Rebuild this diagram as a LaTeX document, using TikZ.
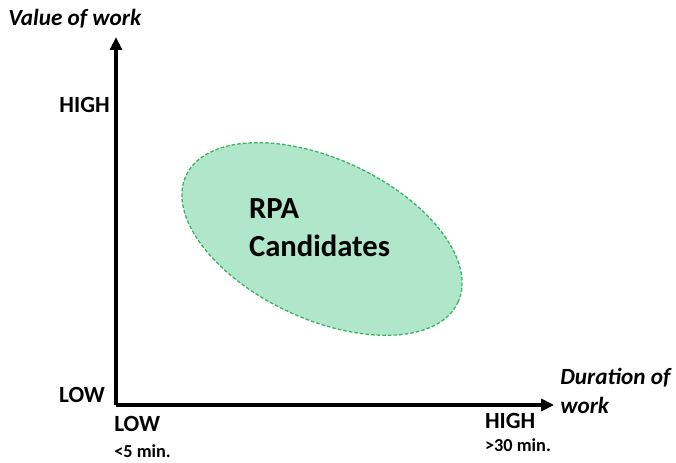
\documentclass[tikz,border=0pt]{standalone}
\usepackage{fontspec}
\setmainfont{Carlito}
\usetikzlibrary{arrows.meta}
\definecolor{blobfill}{RGB}{176,230,202}
\definecolor{blobline}{RGB}{52,178,98}
\tikzset{
  lbl/.style={inner sep=0pt, font=\bfseries\fontsize{16.5}{21}\selectfont},
  sublbl/.style={inner sep=0pt, font=\bfseries\fontsize{13}{15}\selectfont},
  axtitle/.style={inner sep=0pt, align=left, font=\bfseries\itshape\fontsize{16.5}{21}\selectfont}
}
\begin{document}
\begin{tikzpicture}
        \useasboundingbox (0,0) rectangle (16.9,11.55);
        \coordinate (origin) at (2.9,1.425);
        \coordinate (ytip) at (2.9,10.62);
        \coordinate (xtip) at (13.85,1.425);
        \draw [line width=2.2pt, -{Triangle[length=0.32cm, width=0.3cm]}] (origin) -- (ytip);
        \draw [line width=2.2pt, -{Triangle[length=0.32cm, width=0.3cm]}] (origin) -- (xtip);
        \draw [fill=blobfill, draw=blobline, dash pattern=on 2.5pt off 1.5pt, line width=0.9pt, rotate around={-25:(8.05,5.575)}] (8.05,5.575) ellipse (3.75cm and 2cm);
        \node[lbl, align=left, anchor=west, font=\bfseries\fontsize{21.8}{27}\selectfont] (cand) at (6.22,5.85) {RPA\\Candidates};
        \node[axtitle, anchor=west] (ytitle) at (0.2,11.075) {Value of work};
        \node[axtitle, anchor=north west] (xtitle) at (14.0,2.36) {Duration of\\work};
        \node[lbl, anchor=east] (yhigh) at (2.75,8.925) {HIGH};
        \node[lbl, anchor=east] (ylow) at (2.63,1.675) {LOW};
        \node[lbl, anchor=west] (xlow) at (2.85,0.94) {LOW};
        \node[sublbl, anchor=west] (xlowmin) at (2.85,0.28) {<5 min.};
        \node[lbl, anchor=west] (xhigh) at (12.12,1.03) {HIGH};
        \node[sublbl, anchor=west] (xhighmin) at (12.12,0.42) {>30 min.};
      \end{tikzpicture}
\end{document}
